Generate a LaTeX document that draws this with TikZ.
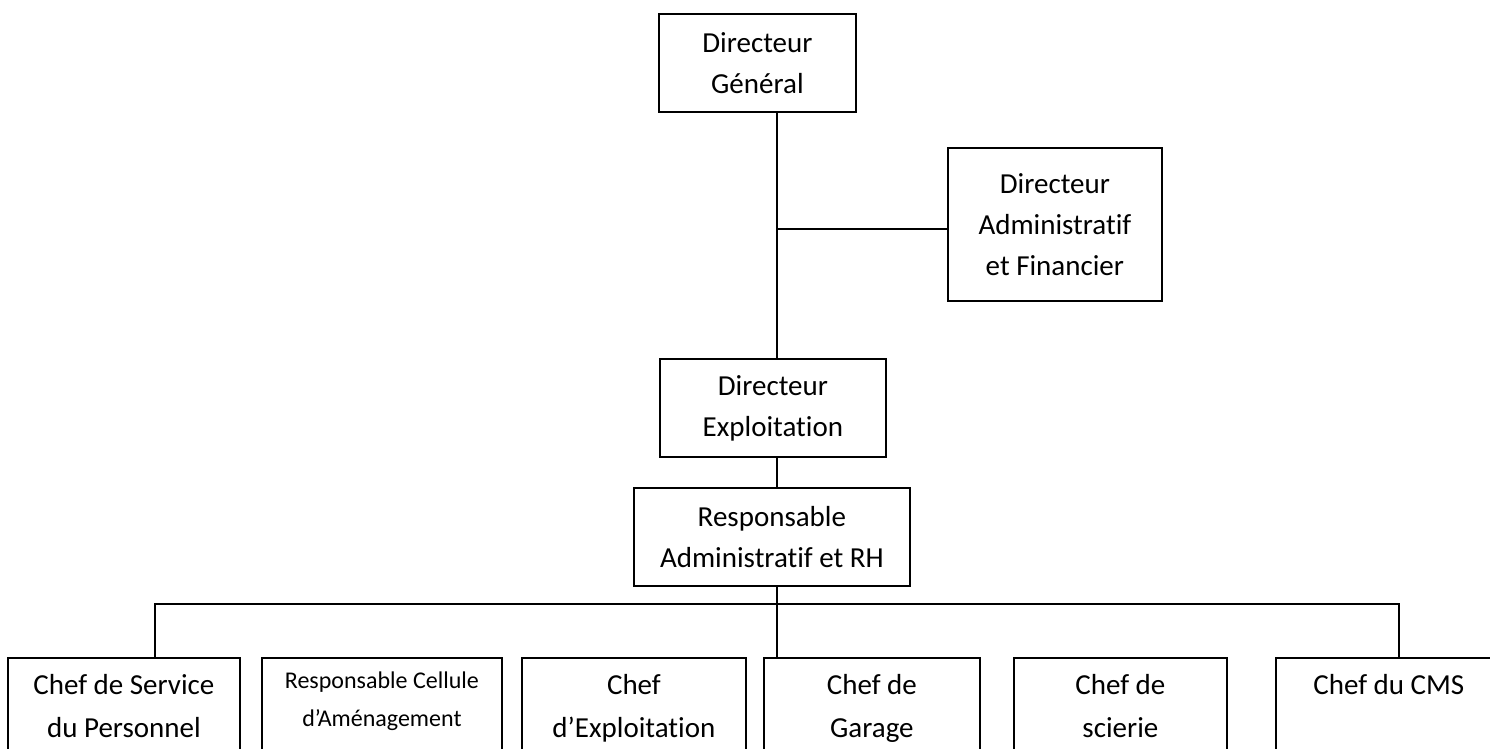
\documentclass[tikz,border=0pt]{standalone}
\usepackage{fontspec}
\setmainfont{Carlito}[Ligatures={NoCommon}]
\begin{document}
\begin{tikzpicture}[x=1pt,y=-1pt,
  box/.style={draw, line width=1.8pt, inner sep=0pt, align=center, anchor=north west,
    font=\fontsize{29}{41}\selectfont},
  bbox/.style={draw, line width=1.8pt, inner sep=0pt, anchor=north west,
    font=\fontsize{29}{43}\selectfont},
  conn/.style={line width=1.8pt}]
\useasboundingbox (0,0) rectangle (1490,749);
\clip (0,0) rectangle (1490,749);
% upper hierarchy
\node[box, minimum width=197pt, minimum height=98pt] (dg) at (658,13) {Directeur\\Général};
\node[box, minimum width=214pt, minimum height=153pt] (daf) at (947,147) {Directeur\\Administratif\\et Financier};
\node[box, minimum width=226pt, minimum height=98pt] (de) at (659,358) {Directeur\\Exploitation};
\node[box, minimum width=276pt, minimum height=98pt] (ra) at (633,487) {Responsable\\Administratif et RH};
% bottom row
\node[bbox] (b1) at (7,657) {\parbox[t][100pt][t]{232pt}{\centering\rule{0pt}{37pt}Chef de Service\\du Personnel}};
\node[bbox] (b2) at (261,657) {\parbox[t][100pt][t]{240pt}{\centering\fontsize{24}{38}\selectfont\rule{0pt}{31pt}Responsable Cellule\\d’Aménagement}};
\node[bbox] (b3) at (521,657) {\parbox[t][100pt][t]{224pt}{\centering\rule{0pt}{37pt}Chef\\d’Exploitation}};
\node[bbox] (b4) at (763,657) {\parbox[t][100pt][t]{216pt}{\centering\rule{0pt}{37pt}Chef de\\Garage}};
\node[bbox] (b5) at (1013,657) {\parbox[t][100pt][t]{213pt}{\centering\rule{0pt}{37pt}Chef de\\scierie}};
\node[bbox] (b6) at (1275,657) {\parbox[t][100pt][t]{226pt}{\centering\rule{0pt}{37pt}Chef du CMS}};
% connectors
\coordinate (spine) at (777,0);
\coordinate (jn) at (777,229);
\coordinate (busL) at (155,604);
\coordinate (busR) at (1399,604);
\draw[conn] (dg.south -| spine) -- (de.north -| spine);
\draw[conn] (jn) -- (jn -| daf.west);
\draw[conn] (de.south -| spine) -- (ra.north -| spine);
\draw[conn] (ra.south -| spine) -- (b4.north -| spine);
\draw[conn] (b1.north -| busL) -- (busL) -- (busR) -- (b6.north -| busR);
\end{tikzpicture}
\end{document}
